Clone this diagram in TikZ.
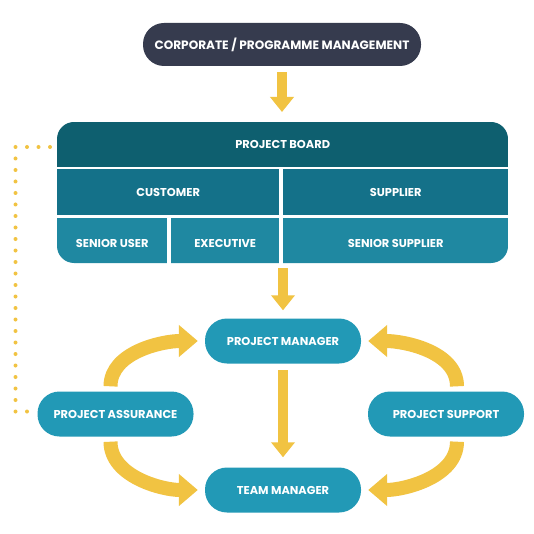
\documentclass[tikz,border=0pt]{standalone}
\usepackage{fontspec}
\setmainfont{Poppins}
\usetikzlibrary{arrows.meta}
\definecolor{darknavy}{HTML}{363B4E}
\definecolor{pbteal}{HTML}{0E5F6F}
\definecolor{rowteal}{HTML}{147189}
\definecolor{lowteal}{HTML}{1F88A1}
\definecolor{pill}{HTML}{2299B6}
\definecolor{arrowyel}{HTML}{F1C342}
\tikzset{
  lbl/.style={text=white,font=\bfseries\fontsize{11.4}{13}\selectfont},
  pillbox/.style={lbl,fill=pill,rounded corners=22pt,minimum width=156pt,minimum height=45pt,inner sep=0pt},
  cell/.style={lbl,inner sep=0pt,anchor=north west},
  straightarrow/.style={draw=arrowyel,line width=10pt,-{Triangle[width=23pt,length=15pt]}},
  curvearrow/.style={draw=arrowyel,line width=14pt,-{Triangle[width=31pt,length=19pt]}},
  dotline/.style={draw=arrowyel,line width=4pt,line cap=round,dash pattern=on 0pt off 11.5pt}
}
\begin{document}
\begin{tikzpicture}[x=1pt,y=-1pt]
\fill[white] (0,0) rectangle (534,534);
\useasboundingbox (0,0) rectangle (534,534);
% top node
\node[lbl,font=\bfseries\fontsize{12.1}{14}\selectfont,fill=darknavy,rounded corners=21pt,minimum width=278pt,minimum height=43pt,inner sep=0pt] (corp) at (282,44.5) {CORPORATE / PROGRAMME MANAGEMENT};
% board
\begin{scope}
\clip[rounded corners=17pt] (57,122) rectangle (508,263);
\node[cell,fill=pbteal,minimum width=451pt,minimum height=45pt] (pb) at (57,122) {PROJECT BOARD};
\node[cell,fill=rowteal,minimum width=222pt,minimum height=46pt] (cust) at (57,169) {CUSTOMER};
\node[cell,fill=rowteal,minimum width=225pt,minimum height=46pt] (supp) at (283,169) {SUPPLIER};
\node[cell,fill=lowteal,minimum width=110pt,minimum height=50pt] (su) at (57,218) {SENIOR USER};
\node[cell,fill=lowteal,minimum width=108pt,minimum height=50pt] (exe) at (171,218) {EXECUTIVE};
\node[cell,fill=lowteal,minimum width=225pt,minimum height=50pt] (ss) at (283,218) {SENIOR SUPPLIER};
\end{scope}
\coordinate (boardbot) at (283,263);
% pills
\node[pillbox] (pm) at (283,341) {PROJECT MANAGER};
\node[pillbox] (tm) at (283,490) {TEAM MANAGER};
\node[pillbox] (pa) at (115.5,414) {PROJECT ASSURANCE};
\node[pillbox] (ps) at (446,414) {PROJECT SUPPORT};
% straight arrows
\draw[straightarrow] ([yshift=-6pt]corp.south) coordinate (a1s) -- ([yshift=10pt]pb.north -| a1s);
\draw[straightarrow] ([yshift=-5pt]boardbot) -- ([yshift=8pt]pm.north);
\draw[straightarrow] ([yshift=-6.5pt]pm.south) -- ([yshift=10pt]tm.north);
% curved arrows
\draw[curvearrow] ([xshift=-5pt,yshift=5pt]pa.north) to[out=90,in=180,looseness=0.9] ([xshift=-7pt]pm.west);
\draw[curvearrow] ([xshift=-5pt,yshift=-5pt]pa.south) to[out=-90,in=180,looseness=0.9] ([xshift=-7pt]tm.west);
\draw[curvearrow] ([xshift=11pt,yshift=5pt]ps.north) to[out=90,in=0,looseness=0.9] ([xshift=7pt]pm.east);
\draw[curvearrow] ([xshift=11pt,yshift=-5pt]ps.south) to[out=-90,in=0,looseness=0.9] ([xshift=7pt]tm.east);
% dotted line
\coordinate (d1) at (50,147);
\coordinate (d2) at (15.5,147);
\coordinate (d3) at (15.5,411.5);
\coordinate (d4) at (27,411.5);
\draw[dotline] (d1) -- (d2) -- (d3) -- (d4);
\end{tikzpicture}
\end{document}
